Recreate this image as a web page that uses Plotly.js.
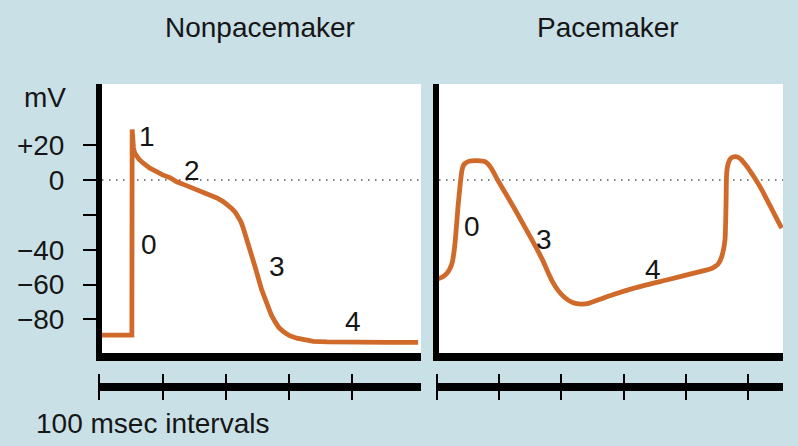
<!DOCTYPE html>
<html>
<head>
<meta charset="utf-8">
<script src="https://cdn.plot.ly/plotly-3.0.1.min.js"></script>
<style>html,body{margin:0;padding:0;background:#c9e1e6;}#chart{width:798px;height:446px;}</style>
</head>
<body>
<div id="chart"></div>
<script>
// ---- data (time in ms, membrane potential in mV) ----
const nonpacemakerTime = [0, 51.5, 52, 52.8, 54, 56, 59, 63, 69.6, 80, 90.7, 100, 111.8, 122.4, 135, 148.6, 162, 175, 186, 196, 204, 209.3, 215, 219.8, 224, 227.7, 235.6, 246.2, 256.8, 262, 267.2, 272, 277.8, 284, 290.9, 300, 312.1, 325, 338.5, 360, 380.6, 420, 460, 504];
const nonpacemakerMV   = [-89, -89, 29, 22, 18.5, 15.5, 13.5, 11.8, 9.6, 6.8, 4.8, 2.9, 1.3, -1.0, -2.8, -4.8, -6.6, -8.6, -10.3, -12.4, -14.5, -16.3, -18.5, -21, -24, -27.7, -36.3, -49.7, -63.1, -68.5, -72.7, -77.5, -81.3, -84.7, -87, -89.2, -90.8, -92, -92.6, -92.9, -93.1, -93.2, -93.2, -93.2];

const pacemakerTime = [0, 3, 10, 16.5, 21, 24.6, 27.5, 29.9, 34.2, 37.9, 40.6, 43, 45.9, 52, 61.9, 70, 78, 83, 87.6, 99.5, 126.1, 152.9, 170, 178, 186, 195, 205, 214, 222.4, 233, 243.9, 262, 281.3, 315.5, 369, 422.5, 440, 446.6, 452, 457.3, 462.6, 464.2, 465.3, 467.9, 472, 478.6, 484, 489.4, 494, 500, 518.8, 553.6];
const pacemakerMV   = [-57, -56.6, -55.5, -53.5, -51, -47.8, -42, -34.4, -15.3, -1.9, 5.7, 8.5, 9.6, 10.8, 11.1, 11, 10.5, 9, 6.7, -1, -17.2, -34.4, -46, -52.5, -58.5, -63.5, -67.3, -69.6, -70.8, -71.2, -70.8, -68.5, -66, -62.2, -57.4, -52.6, -51, -49.7, -48, -44, -34.4, -15.3, 3.8, 9.6, 12.5, 13.4, 13, 11.5, 9.5, 6.7, -3.8, -27.7];

const mvTickVals = [20, 0, -20, -40, -60, -80];
const mvTickText = ['+20', '0', '', '\u221240', '\u221260', '\u221280'];

const timeTicksNonpacemaker = [0, 100, 200, 300, 400];
const timeTicksPacemaker    = [0, 100, 200, 300, 400, 500];

const nonpacemakerPhaseLabels = ['1', '2', '0', '3', '4'];
const nonpacemakerPhaseTime   = [75.4, 146.6, 78.6, 280.9, 401];
const nonpacemakerPhaseMV     = [25.2, 5.2, -37.3, -49.9, -81.5];

const pacemakerPhaseLabels = ['0', '3', '4'];
const pacemakerPhaseTime   = [56.6, 171.7, 346.6];
const pacemakerPhaseMV     = [-26.8, -34.4, -51.6];

const panelTitles = ['Nonpacemaker', 'Pacemaker'];
const yUnit = 'mV';
const timeCaption = '100 msec intervals';

// ---- layout helpers (pixel -> paper) ----
const W = 798, H = 446;
const px = v => v / W;
const py = v => 1 - v / H;

const ORANGE = '#cf6a2b';
const BLUE = '#c9e1e6';
const FONT = 'Liberation Sans, Arial, Helvetica, sans-serif';
const TXT = '#161616';
const FS = 28;

const traces = [
  {x: nonpacemakerTime, y: nonpacemakerMV, xaxis: 'x', yaxis: 'y', mode: 'lines',
   line: {color: ORANGE, width: 4.8, shape: 'linear'}, hoverinfo: 'skip'},
  {x: pacemakerTime, y: pacemakerMV, xaxis: 'x2', yaxis: 'y2', mode: 'lines',
   line: {color: ORANGE, width: 4.8, shape: 'spline', smoothing: 0.5}, hoverinfo: 'skip'},
  // carriers for the two time-scale axes (draw nothing themselves)
  {x: nonpacemakerTime, y: nonpacemakerMV, xaxis: 'x3', yaxis: 'y3', mode: 'none', hoverinfo: 'skip'},
  {x: pacemakerTime, y: pacemakerMV, xaxis: 'x4', yaxis: 'y4', mode: 'none', hoverinfo: 'skip'}
];

const panelY = [py(353), py(84)];
const mvRange = [-99.3, 55.1];

const timeAxisCommon = {
  showline: true, linewidth: 4, linecolor: '#000', mirror: 'ticks',
  ticks: 'outside', ticklen: 9, tickwidth: 2, tickcolor: '#000',
  tickmode: 'array', showticklabels: false,
  showgrid: false, zeroline: false, fixedrange: true, autorange: false
};
const timeYCommon = {visible: false, range: [-1, 1], autorange: false, domain: [py(387.25), py(386.75)], fixedrange: true};

const layout = {
  width: W, height: H,
  margin: {l: 0, r: 0, t: 0, b: 0, pad: 0},
  paper_bgcolor: BLUE, plot_bgcolor: '#ffffff',
  showlegend: false,
  font: {family: FONT, size: FS, color: TXT},
  xaxis: {domain: [px(102), px(421)], range: [4.3, 508.6], anchor: 'y',
          showline: true, linewidth: 8, linecolor: '#000', ticks: '', showticklabels: false,
          showgrid: false, zeroline: false, fixedrange: true},
  yaxis: {domain: panelY, range: mvRange, anchor: 'x',
          showline: true, linewidth: 6, linecolor: '#000',
          ticks: 'outside', ticklen: 13, tickwidth: 2, tickcolor: '#000',
          tickvals: mvTickVals, ticktext: mvTickText, ticklabelstandoff: 13,
          tickfont: {family: FONT, size: FS, color: TXT},
          showgrid: false, zeroline: false, fixedrange: true},
  xaxis2: {domain: [px(439), px(783)], range: [3.7, 555.7], anchor: 'y2',
           showline: true, linewidth: 8, linecolor: '#000', ticks: '', showticklabels: false,
           showgrid: false, zeroline: false, fixedrange: true},
  yaxis2: {domain: panelY, range: mvRange, anchor: 'x2',
           showline: true, linewidth: 6, linecolor: '#000', ticks: '', showticklabels: false,
           showgrid: false, zeroline: false, fixedrange: true},
  xaxis3: Object.assign({domain: [px(98), px(421)], range: [-2.1, 508.6], anchor: 'y3', tickvals: timeTicksNonpacemaker}, timeAxisCommon),
  yaxis3: Object.assign({anchor: 'x3'}, timeYCommon),
  xaxis4: Object.assign({domain: [px(436), px(783)], range: [-1.1, 555.7], anchor: 'y4', tickvals: timeTicksPacemaker}, timeAxisCommon),
  yaxis4: Object.assign({anchor: 'x4'}, timeYCommon),
  shapes: [
    {type: 'line', xref: 'x domain', yref: 'y', x0: 0, x1: 1, y0: 0, y1: 0, layer: 'below',
     line: {color: '#555', width: 1.5, dash: '1.5px,5.5px'}},
    {type: 'line', xref: 'x2 domain', yref: 'y2', x0: 0, x1: 1, y0: 0, y1: 0, layer: 'below',
     line: {color: '#555', width: 1.5, dash: '1.5px,5.5px'}}
  ],
  annotations: []
};

nonpacemakerPhaseLabels.forEach((t, i) => layout.annotations.push({
  text: t, x: nonpacemakerPhaseTime[i], y: nonpacemakerPhaseMV[i], xref: 'x', yref: 'y',
  showarrow: false, font: {family: FONT, size: FS, color: TXT}
}));
pacemakerPhaseLabels.forEach((t, i) => layout.annotations.push({
  text: t, x: pacemakerPhaseTime[i], y: pacemakerPhaseMV[i], xref: 'x2', yref: 'y2',
  showarrow: false, font: {family: FONT, size: FS, color: TXT}
}));
layout.annotations.push(
  {text: panelTitles[0], xref: 'paper', yref: 'paper', x: px(260), y: py(28), xanchor: 'center', yanchor: 'middle', showarrow: false, font: {family: FONT, size: FS, color: TXT}},
  {text: panelTitles[1], xref: 'paper', yref: 'paper', x: px(608), y: py(28), xanchor: 'center', yanchor: 'middle', showarrow: false, font: {family: FONT, size: FS, color: TXT}},
  {text: yUnit, xref: 'paper', yref: 'paper', x: px(45), y: py(98), xanchor: 'center', yanchor: 'middle', showarrow: false, font: {family: FONT, size: FS, color: TXT}},
  {text: timeCaption, xref: 'paper', yref: 'paper', x: px(34), y: py(423), xanchor: 'left', yanchor: 'middle', showarrow: false, font: {family: FONT, size: FS, color: TXT}}
);

Plotly.newPlot('chart', traces, layout, {staticPlot: true, displayModeBar: false});
</script>
</body>
</html>
